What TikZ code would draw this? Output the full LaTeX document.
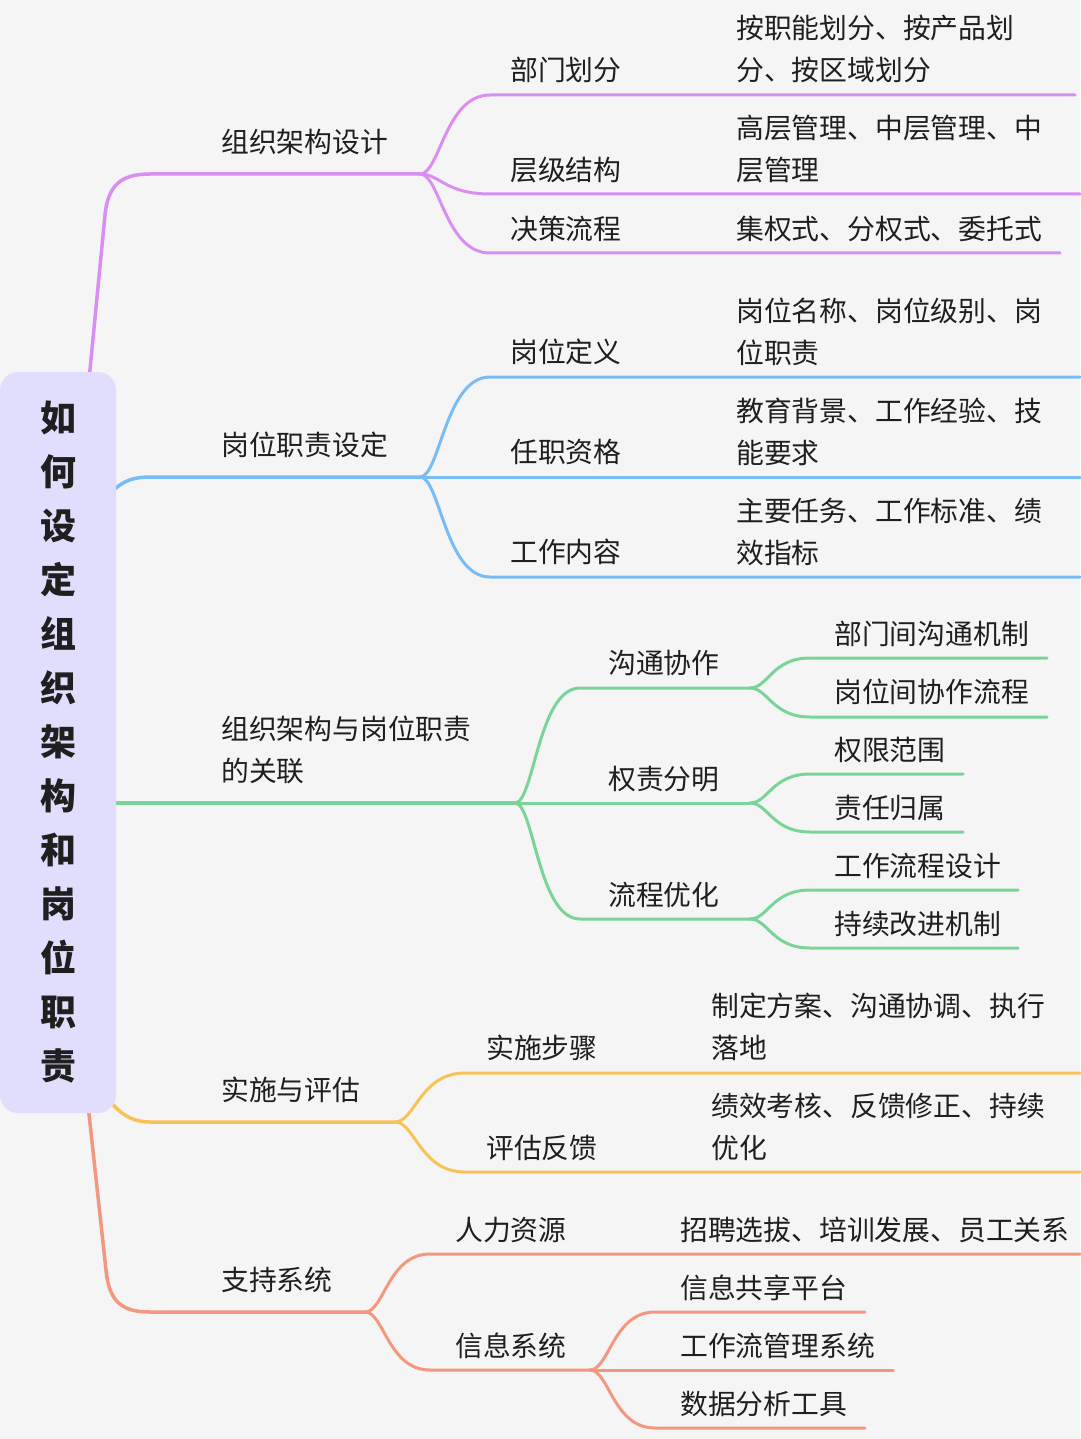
\documentclass[tikz,border=0pt]{standalone}
\usepackage{fontspec}
\setmainfont{Noto Sans CJK SC}
\usetikzlibrary{positioning,calc}
\definecolor{bgcol}{HTML}{F5F5F6}
\definecolor{rootcol}{HTML}{E0DEFC}
\definecolor{txtcol}{HTML}{1F1F1F}
\definecolor{pcol}{HTML}{D98EF2}
\definecolor{bcol}{HTML}{78BCF5}
\definecolor{gcol}{HTML}{7AD49A}
\definecolor{ycol}{HTML}{F7C257}
\definecolor{scol}{HTML}{F3977F}

\begin{document}
\begin{tikzpicture}[x=1pt,y=-1pt,
    topic/.style={anchor=west,inner sep=0pt,align=left,text=txtcol,
      font=\fontsize{27.8}{42}\selectfont},
    rootbox/.style={fill=rootcol,rounded corners=18pt,inner sep=0pt,
      minimum width=116pt,minimum height=741pt,align=center,text=txtcol,
      font=\fontsize{36}{54}\selectfont\bfseries},
    branch/.style={line width=3pt,line cap=round},
    mainbranch/.style={line width=3.5pt,line cap=round}]

\fill[bgcol] (0,0) rectangle (1080,1439);
\useasboundingbox (0,0) rectangle (1080,1439);

% purple
\coordinate (r-p) at (89,380);
\coordinate (p0) at (150,174);  \coordinate (p0e) at (420,174);
\coordinate (p1) at (490,95);   \coordinate (p1e) at (1075,95);
\coordinate (p2) at (490,194);  \coordinate (p2e) at (1080,194);
\coordinate (p3) at (490,253);  \coordinate (p3e) at (1060,253);
\draw[mainbranch,pcol] (r-p) -- (105,215) .. controls (108,186) and (120,174) .. (p0) -- (p0e);
\draw[branch,pcol] (p0e) .. controls +(20,0) and +(-45,0) .. (p1) -- (p1e);
\draw[branch,pcol] (p0e) .. controls +(20,0) and +(-45,0) .. (p2) -- (p2e);
\draw[branch,pcol] (p0e) .. controls +(20,0) and +(-45,0) .. (p3) -- (p3e);
\node[topic] (t-p0) at (221,142) {组织架构设计};
\node[topic] (t-p1) at (510,70) {部门划分};
\node[topic] (t-p2) at (510,170) {层级结构};
\node[topic] (t-p3) at (510,229) {决策流程};
\node[topic] (t-p1a) at (736,49) {按职能划分、按产品划\\分、按区域划分};
\node[topic] (t-p2a) at (736,149) {高层管理、中层管理、中\\层管理};
\node[topic] (t-p3a) at (736,229) {集权式、分权式、委托式};

% blue
\coordinate (r-b) at (104,500);
\coordinate (b0) at (150,477);  \coordinate (b0e) at (420,477);
\coordinate (b1) at (490,377);  \coordinate (b1e) at (1080,377);
\coordinate (b2) at (490,477);  \coordinate (b2e) at (1080,477);
\coordinate (b3) at (490,577);  \coordinate (b3e) at (1080,577);
\draw[mainbranch,bcol] (r-b) .. controls (118,484) and (128,477) .. (b0) -- (b0e);
\draw[branch,bcol] (b0e) .. controls +(20,0) and +(-45,0) .. (b1) -- (b1e);
\draw[branch,bcol] (b0e) -- (b2) -- (b2e);
\draw[branch,bcol] (b0e) .. controls +(20,0) and +(-45,0) .. (b3) -- (b3e);
\node[topic] (t-b0) at (221,445) {岗位职责设定};
\node[topic] (t-b1) at (510,352) {岗位定义};
\node[topic] (t-b2) at (510,452) {任职资格};
\node[topic] (t-b3) at (510,552) {工作内容};
\node[topic] (t-b1a) at (736,331.5) {岗位名称、岗位级别、岗\\位职责};
\node[topic] (t-b2a) at (736,431.5) {教育背景、工作经验、技\\能要求};
\node[topic] (t-b3a) at (736,531.5) {主要任务、工作标准、绩\\效指标};

% green
\coordinate (r-g) at (100,803);
\coordinate (g0e) at (515,803);
\coordinate (g1) at (580,688);  \coordinate (g1e) at (750,688);
\coordinate (g2) at (580,803);  \coordinate (g2e) at (750,803);
\coordinate (g3) at (580,919);  \coordinate (g3e) at (750,919);
\coordinate (g11) at (810,658); \coordinate (g11e) at (1047,658);
\coordinate (g12) at (810,717); \coordinate (g12e) at (1047,717);
\coordinate (g21) at (810,774); \coordinate (g21e) at (963,774);
\coordinate (g22) at (810,832); \coordinate (g22e) at (963,832);
\coordinate (g31) at (810,890); \coordinate (g31e) at (1018,890);
\coordinate (g32) at (810,948); \coordinate (g32e) at (1018,948);
\draw[mainbranch,gcol] (r-g) -- (g0e);
\draw[branch,gcol] (g0e) .. controls +(19,0) and +(-42,0) .. (g1) -- (g1e);
\draw[branch,gcol] (g0e) -- (g2) -- (g2e);
\draw[branch,gcol] (g0e) .. controls +(19,0) and +(-42,0) .. (g3) -- (g3e);
\draw[branch,gcol] (g1e) .. controls +(18,0) and +(-38,0) .. (g11) -- (g11e);
\draw[branch,gcol] (g1e) .. controls +(18,0) and +(-38,0) .. (g12) -- (g12e);
\draw[branch,gcol] (g2e) .. controls +(18,0) and +(-38,0) .. (g21) -- (g21e);
\draw[branch,gcol] (g2e) .. controls +(18,0) and +(-38,0) .. (g22) -- (g22e);
\draw[branch,gcol] (g3e) .. controls +(18,0) and +(-38,0) .. (g31) -- (g31e);
\draw[branch,gcol] (g3e) .. controls +(18,0) and +(-38,0) .. (g32) -- (g32e);
\node[topic] (t-g0) at (221,750) {组织架构与岗位职责\\的关联};
\node[topic] (t-g1) at (608,663) {沟通协作};
\node[topic] (t-g2) at (608,779) {权责分明};
\node[topic] (t-g3) at (608,895) {流程优化};
\node[topic] (t-g11) at (834,634) {部门间沟通机制};
\node[topic] (t-g12) at (834,692) {岗位间协作流程};
\node[topic] (t-g21) at (834,750) {权限范围};
\node[topic] (t-g22) at (834,808) {责任归属};
\node[topic] (t-g31) at (834,866) {工作流程设计};
\node[topic] (t-g32) at (834,924) {持续改进机制};

% yellow
\coordinate (r-y) at (104,1093);
\coordinate (y0) at (150,1122); \coordinate (y0e) at (395,1122);
\coordinate (y1) at (465,1073); \coordinate (y1e) at (1080,1073);
\coordinate (y2) at (465,1172); \coordinate (y2e) at (1080,1172);
\draw[mainbranch,ycol] (r-y) .. controls (116,1110) and (128,1122) .. (y0) -- (y0e);
\draw[branch,ycol] (y0e) .. controls +(20,0) and +(-45,0) .. (y1) -- (y1e);
\draw[branch,ycol] (y0e) .. controls +(20,0) and +(-45,0) .. (y2) -- (y2e);
\node[topic] (t-y0) at (221,1090) {实施与评估};
\node[topic] (t-y1) at (486,1048) {实施步骤};
\node[topic] (t-y2) at (486,1148) {评估反馈};
\node[topic] (t-y1a) at (711,1027) {制定方案、沟通协调、执行\\落地};
\node[topic] (t-y2a) at (711,1127) {绩效考核、反馈修正、持续\\优化};

% salmon
\coordinate (r-s) at (88,1105);
\coordinate (s0) at (150,1312); \coordinate (s0e) at (365,1312);
\coordinate (s1) at (430,1254); \coordinate (s1e) at (1080,1254);
\coordinate (s2) at (430,1370); \coordinate (s2e) at (590,1370);
\coordinate (s21) at (655,1312); \coordinate (s21e) at (865,1312);
\coordinate (s22) at (655,1370); \coordinate (s22e) at (893,1370);
\coordinate (s23) at (655,1428); \coordinate (s23e) at (865,1428);
\draw[mainbranch,scol] (r-s) -- (106,1270) .. controls (109,1300) and (120,1312) .. (s0) -- (s0e);
\draw[branch,scol] (s0e) .. controls +(19,0) and +(-42,0) .. (s1) -- (s1e);
\draw[branch,scol] (s0e) .. controls +(19,0) and +(-42,0) .. (s2) -- (s2e);
\draw[branch,scol] (s2e) .. controls +(19,0) and +(-42,0) .. (s21) -- (s21e);
\draw[branch,scol] (s2e) -- (s22) -- (s22e);
\draw[branch,scol] (s2e) .. controls +(19,0) and +(-42,0) .. (s23) -- (s23e);
\node[topic] (t-s0) at (221,1280) {支持系统};
\node[topic] (t-s1) at (455,1230) {人力资源};
\node[topic] (t-s2) at (455,1346) {信息系统};
\node[topic] (t-s1a) at (680,1230) {招聘选拔、培训发展、员工关系};
\node[topic] (t-s21) at (680,1288) {信息共享平台};
\node[topic] (t-s22) at (680,1346) {工作流管理系统};
\node[topic] (t-s23) at (680,1404) {数据分析工具};

\node[rootbox] (root) at (58,742.5) {如\\何\\设\\定\\组\\织\\架\\构\\和\\岗\\位\\职\\责};
\end{tikzpicture}
\end{document}
